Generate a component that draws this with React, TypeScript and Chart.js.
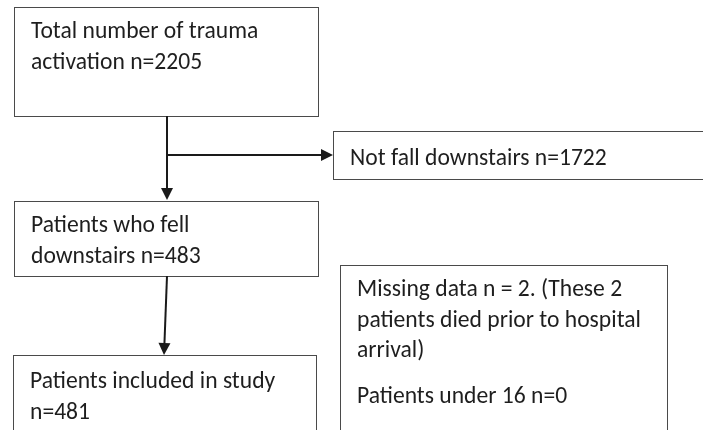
import React, { useEffect, useRef } from "react";
import { Chart, registerables } from "chart.js";

Chart.register(...registerables);

// ---- data ----
const stageNames = [
  "Total number of trauma\nactivation",
  "Not fall downstairs",
  "Patients who fell\ndownstairs",
  "Patients included in study\n",
];
const stageCounts = [2205, 1722, 483, 481];
const missingCount = [2];
const under16Count = [0];

// ---- layout (canvas units, 703 x 430) ----
type Box = { x0: number; y0: number; x1: number; y1: number; tx: number; ty: number; lines: string[] };

function buildBoxes(): Box[] {
  const lab = (i: number) => (stageNames[i] + " n=" + stageCounts[i]).replace("\n n=", "\nn=").split("\n");
  return [
    { x0: 14.5, y0: 7.5, x1: 318.5, y1: 116.5, tx: 31, ty: 38, lines: lab(0) },
    { x0: 333.5, y0: 131.5, x1: 720, y1: 179.5, tx: 350, ty: 165, lines: lab(1) },
    { x0: 14.5, y0: 201.5, x1: 318.5, y1: 276.5, tx: 31, ty: 232, lines: lab(2) },
    { x0: 13.5, y0: 355.5, x1: 316.5, y1: 450, tx: 30, ty: 388, lines: lab(3) },
    {
      x0: 340.5, y0: 265.5, x1: 667.5, y1: 450, tx: 357, ty: 296,
      lines: [
        "Missing data n = " + missingCount[0] + ". (These " + missingCount[0],
        "patients died prior to hospital",
        "arrival)",
        "",
        "Patients under 16 n=" + under16Count[0],
      ],
    },
  ];
}

const arrows = [
  // [x0, y0, x1, y1]
  [167, 116, 167, 200],
  [167, 155, 333, 155],
  [167, 276, 164, 355],
];

const flowPlugin = {
  id: "flow",
  afterDraw(chart: any) {
    const { ctx } = chart;
    const xs = chart.scales.x;
    const ys = chart.scales.y;
    const X = (v: number) => xs.getPixelForValue(v);
    const Y = (v: number) => ys.getPixelForValue(v);
    ctx.save();
    ctx.fillStyle = "#ffffff";
    ctx.fillRect(0, 0, chart.width, chart.height);
    // boxes
    const boxes = buildBoxes();
    ctx.lineWidth = 1;
    ctx.strokeStyle = "#4a4a4a";
    for (const b of boxes) {
      ctx.strokeRect(X(b.x0), Y(b.y0), X(b.x1) - X(b.x0), Y(b.y1) - Y(b.y0));
    }
    // arrows
    ctx.strokeStyle = "#1a1a1a";
    ctx.fillStyle = "#1a1a1a";
    ctx.lineWidth = 2;
    for (const [ax0, ay0, ax1, ay1] of arrows) {
      const px0 = X(ax0), py0 = Y(ay0), px1 = X(ax1), py1 = Y(ay1);
      const ang = Math.atan2(py1 - py0, px1 - px0);
      const hl = 12, hw = 6;
      const bx = px1 - hl * Math.cos(ang), by = py1 - hl * Math.sin(ang);
      ctx.beginPath();
      ctx.moveTo(px0, py0);
      ctx.lineTo(bx, by);
      ctx.stroke();
      ctx.beginPath();
      ctx.moveTo(px1, py1);
      ctx.lineTo(bx + hw * Math.sin(ang), by - hw * Math.cos(ang));
      ctx.lineTo(bx - hw * Math.sin(ang), by + hw * Math.cos(ang));
      ctx.closePath();
      ctx.fill();
    }
    // text
    ctx.fillStyle = "#1e1e1e";
    ctx.font = "23.6px Carlito, Lato, sans-serif";
    ctx.textBaseline = "alphabetic";
    ctx.textAlign = "left";
    for (const b of boxes) {
      let y = Y(b.ty);
      b.lines.forEach((ln) => {
        if (ln === "") {
          y += 15.5;
          return;
        }
        ctx.fillText(ln, X(b.tx), y);
        y += 30.5;
      });
    }
    ctx.restore();
  },
};

export default function App() {
  const ref = useRef<HTMLCanvasElement | null>(null);
  useEffect(() => {
    document.body.style.margin = "0";
    const chart = new Chart(ref.current as HTMLCanvasElement, {
      type: "scatter",
      data: { datasets: [{ data: [], pointRadius: 0 }] },
      options: {
        animation: false,
        responsive: false,
        maintainAspectRatio: false,
        layout: { padding: 0 },
        plugins: { legend: { display: false }, tooltip: { enabled: false } },
        scales: {
          x: { type: "linear", min: 0, max: 703, display: false },
          y: { type: "linear", min: 0, max: 430, reverse: true, display: false },
        },
      },
      plugins: [flowPlugin],
    });
    return () => chart.destroy();
  }, []);
  return (
    <div style={{ position: "absolute", left: 0, top: 0, width: 703, height: 430, background: "#fff" }}>
      <canvas ref={ref} width={703} height={430} style={{ width: 703, height: 430 }} />
    </div>
  );
}
